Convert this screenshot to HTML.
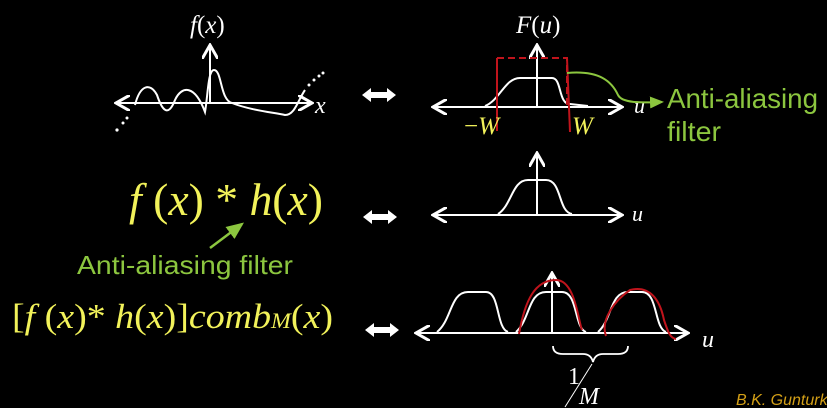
<!DOCTYPE html>
<html><head><meta charset="utf-8"><style>
html,body{margin:0;padding:0;background:#000;width:827px;height:408px;overflow:hidden}
svg{display:block}
.m{font-family:"Liberation Serif",serif;fill:#fff}
.i{font-style:italic}
.g{font-family:"Liberation Sans",sans-serif;fill:#8cc63f}
.y{font-family:"Liberation Serif",serif;fill:#f2f25a}
</style></head><body>
<svg width="827" height="408" viewBox="0 0 827 408">
<defs>
<marker id="ah" markerWidth="8" markerHeight="8" refX="6" refY="4" orient="auto"><path d="M0,0 L7,4 L0,8" fill="none" stroke="#fff" stroke-width="1.5"/></marker>
<marker id="ag" markerWidth="8" markerHeight="8" refX="6" refY="4" orient="auto"><path d="M0,1 L7,4 L0,7 Z" fill="#8cc63f"/></marker>
</defs>
<g stroke="#fff" stroke-width="2" fill="none">
<line x1="210" y1="103" x2="118" y2="103" marker-end="url(#ah)"/>
<line x1="210" y1="103" x2="310" y2="103" marker-end="url(#ah)"/>
<line x1="210" y1="103" x2="210" y2="47" marker-end="url(#ah)"/>
<path d="M135,105 C140,85 150,82 157,95 C162,110 168,118 175,100 C182,85 195,85 205,112 C208,95 208,70 214,70 C222,70 220,100 232,103 C250,110 270,112 285,115 C295,115 298,100 305,90"/>
</g>
<g fill="#fff"><circle cx="117" cy="130" r="1.6"/><circle cx="123" cy="123" r="1.5"/><circle cx="127" cy="118" r="1.5"/><circle cx="309" cy="85" r="1.5"/><circle cx="314" cy="80" r="1.5"/><circle cx="319" cy="76" r="1.5"/><circle cx="323" cy="73" r="1.5"/></g>
<text class="m" x="190" y="33" font-size="25"><tspan class="i">f</tspan>(<tspan class="i">x</tspan>)</text>
<text class="m i" x="315" y="113" font-size="24">x</text>

<g fill="#fff">
<path d="M362,95 l9,-7 v4 h16 v-4 l9,7 l-9,7 v-4 h-16 v4z"/>
<path d="M363,217 l9,-7 v4 h16 v-4 l9,7 l-9,7 v-4 h-16 v4z"/>
<path d="M365,330 l9,-7 v4 h16 v-4 l9,7 l-9,7 v-4 h-16 v4z"/>
</g>

<g stroke="#fff" stroke-width="2" fill="none">
<line x1="537" y1="107" x2="435" y2="107" marker-end="url(#ah)"/>
<line x1="537" y1="107" x2="620" y2="107" marker-end="url(#ah)"/>
<line x1="537" y1="107" x2="537" y2="47" marker-end="url(#ah)"/>
<path d="M485,106 C500,100 505,78 520,78 L552,78 C562,78 558,104 570,104 L588,106"/>
</g>
<g stroke="#c0141c" stroke-width="2" fill="none">
<path d="M497,58 H567 V105" stroke-dasharray="7,4"/>
<line x1="497" y1="58" x2="497" y2="131"/>
<line x1="567" y1="58" x2="570" y2="132"/>
</g>
<text class="m" x="516" y="33" font-size="25"><tspan class="i">F</tspan>(<tspan class="i">u</tspan>)</text>
<text class="m i" x="634" y="113" font-size="22">u</text>
<text class="y" x="464" y="134" font-size="25">−<tspan class="i">W</tspan></text>
<text class="y i" x="572" y="134" font-size="25">W</text>
<path d="M567,73 C600,70 612,82 618,95 C622,103 640,103 662,102" stroke="#8cc63f" stroke-width="2" fill="none" marker-end="url(#ag)"/>
<text class="g" x="667" y="108" font-size="28" textLength="151" lengthAdjust="spacingAndGlyphs">Anti-aliasing</text>
<text class="g" x="667" y="141" font-size="28" textLength="54" lengthAdjust="spacingAndGlyphs">filter</text>

<text class="y" x="129" y="215" font-size="46" textLength="194" lengthAdjust="spacingAndGlyphs"><tspan class="i">f</tspan> (<tspan class="i">x</tspan>) * <tspan class="i">h</tspan>(<tspan class="i">x</tspan>)</text>
<line x1="210" y1="248" x2="242" y2="224" stroke="#8cc63f" stroke-width="2.5" marker-end="url(#ag)"/>
<text class="g" x="77" y="274" font-size="26" textLength="216" lengthAdjust="spacingAndGlyphs">Anti-aliasing filter</text>

<g stroke="#fff" stroke-width="2" fill="none">
<line x1="537" y1="215" x2="435" y2="215" marker-end="url(#ah)"/>
<line x1="537" y1="215" x2="620" y2="215" marker-end="url(#ah)"/>
<line x1="537" y1="215" x2="537" y2="155" marker-end="url(#ah)"/>
<path d="M498,214 C512,205 512,180 528,180 L546,180 C562,180 558,212 572,214"/>
</g>
<text class="m i" x="632" y="221" font-size="22">u</text>

<text class="y" x="12" y="328" font-size="35" textLength="321" lengthAdjust="spacingAndGlyphs">[<tspan class="i">f</tspan> (<tspan class="i">x</tspan>)* <tspan class="i">h</tspan>(<tspan class="i">x</tspan>)]<tspan class="i">comb</tspan><tspan class="i" font-size="22">M</tspan>(<tspan class="i">x</tspan>)</text>

<g stroke="#fff" stroke-width="2" fill="none">
<line x1="552" y1="333" x2="418" y2="333" marker-end="url(#ah)"/>
<line x1="552" y1="333" x2="686" y2="333" marker-end="url(#ah)"/>
<line x1="552" y1="333" x2="552" y2="275" marker-end="url(#ah)"/>
<path d="M437,332 C452,320 450,292 468,292 L486,292 C500,292 496,328 508,332"/>
<path d="M516,332 C530,320 528,292 546,292 L562,292 C578,292 574,328 586,332"/>
<path d="M598,332 C612,320 610,292 628,292 L642,292 C658,292 654,328 666,332"/>
<path d="M553,346 q0,8 10,8 h20 q8,0 10,8 q2,-8 10,-8 h15 q10,0 10,-8" stroke-width="1.8"/>
</g>
<g stroke="#c0141c" stroke-width="2" fill="none">
<path d="M519,334 C525,300 535,280 556,280 C575,280 578,320 582,330"/>
<path d="M606,336 C600,320 615,300 630,290 C650,285 660,300 664,320 C668,332 670,338 676,339"/>
</g>
<text class="m i" x="702" y="347" font-size="24">u</text>
<g>
<text class="m" x="568" y="384" font-size="24">1</text>
<line x1="565" y1="407" x2="592" y2="364" stroke="#fff" stroke-width="1"/>
<text class="m i" x="579" y="404" font-size="24">M</text>
</g>
<text x="736" y="405" font-size="16" font-family="Liberation Sans, sans-serif" font-style="italic" fill="#d4a017">B.K. Gunturk</text>
</svg>
</body></html>
